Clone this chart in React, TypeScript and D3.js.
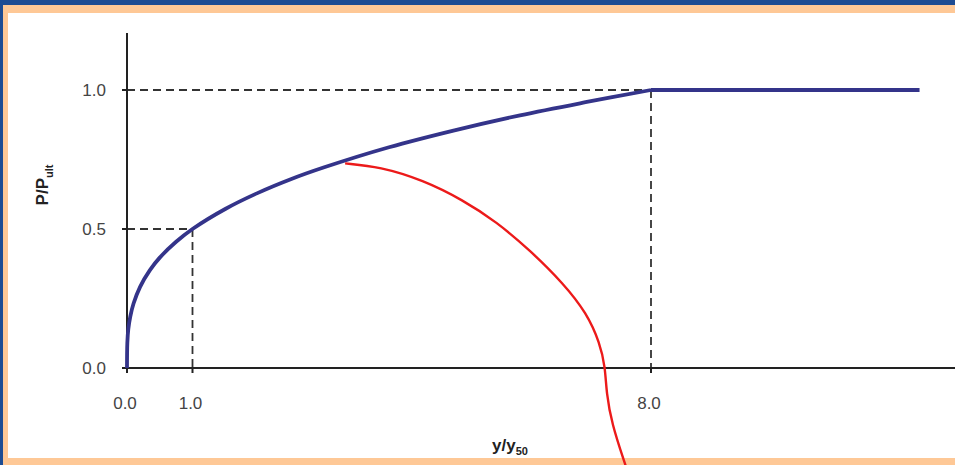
import React from 'react';
import * as d3 from 'd3';

// P-y curve (P/Pult against y/y50)
const ratioY = [0, 0.005, 0.02, 0.05, 0.1, 0.2, 0.35, 0.5, 0.75, 1, 1.5, 2, 2.5, 3, 4, 5, 6, 7, 8, 10, 12.1];
const ratioP = [0, 0.09, 0.14, 0.185, 0.232, 0.292, 0.352, 0.397, 0.454, 0.50, 0.572, 0.63, 0.679, 0.721, 0.794, 0.855, 0.909, 0.956, 1.0, 1.0, 1.0];

const xTicks = [0, 1, 8];
const xTickLabels = ['0.0', '1.0', '8.0'];
const yTicks = [0, 0.5, 1];
const yTickLabels = ['0.0', '0.5', '1.0'];

// reference points marked with dashed guides
const guideX = [1, 8];
const guideP = [0.5, 1.0];

// red callout line (data units), starts on the curve and runs off the bottom
const calloutX = [3.33, 3.86, 4.52, 5.13, 5.64, 6.15, 6.66, 7.02, 7.22, 7.30, 7.32, 7.40, 7.60, 7.64];
const calloutY = [0.736, 0.724, 0.676, 0.604, 0.526, 0.424, 0.305, 0.197, 0.089, 0.005, -0.091, -0.199, -0.343, -0.37];

const W = 955;
const H = 465;

export default function App() {
  const x = d3.scaleLinear().domain([0, 8]).range([127, 651]);
  const y = d3.scaleLinear().domain([0, 1]).range([368, 90]);

  // split where the curve reaches P/Pult = 1 so the corner at 8.0 stays sharp
  const peak = ratioP.indexOf(1);
  const rising = d3.range(0, peak + 1);
  const flat = d3.range(peak, ratioP.length);

  const curveLine = (curve: d3.CurveFactory) => d3.line<number>()
    .x((i) => x(ratioY[i]))
    .y((i) => y(ratioP[i]))
    .curve(curve);

  const callout = d3.line<number>()
    .x((_, i) => x(calloutX[i]))
    .y((d) => y(d))
    .curve(d3.curveBasis);

  const font = '"Liberation Sans", Arial, sans-serif';

  return (
    <div style={{ position: 'fixed', left: 0, top: 0 }}>
      <svg width={W} height={H} style={{ display: 'block' }}>
        {/* frame */}
        <rect x={0} y={0} width={W} height={H} fill="#1d4c93" />
        <rect x={3} y={5} width={W - 3} height={H - 5} fill="#fec896" />
        <rect x={8} y={13} width={W - 8} height={445} fill="#ffffff" />

        {/* dashed guides */}
        {guideX.map((gx, i) => (
          <g key={gx} stroke="#333" strokeWidth={1.8} strokeDasharray="8,5" fill="none">
            <line x1={x(0)} x2={x(gx)} y1={y(guideP[i])} y2={y(guideP[i])} />
            <line x1={x(gx)} x2={x(gx)} y1={y(guideP[i])} y2={y(0)} />
          </g>
        ))}

        {/* axes */}
        <line x1={x(0)} x2={x(0)} y1={33} y2={y(0) + 4} stroke="#222" strokeWidth={2} />
        <line x1={x(0) - 4} x2={W} y1={y(0)} y2={y(0)} stroke="#222" strokeWidth={2} />
        {yTicks.map((t, i) => (
          <g key={t}>
            <line x1={x(0) - 5} x2={x(0)} y1={y(t)} y2={y(t)} stroke="#222" strokeWidth={2} />
            <text x={106} y={y(t)} dy="0.36em" textAnchor="end" fontFamily={font}
              fontSize={17} fill="#444">{yTickLabels[i]}</text>
          </g>
        ))}
        {xTicks.map((t, i) => (
          <g key={t}>
            <line x1={x(t)} x2={x(t)} y1={y(0)} y2={y(0) + 5} stroke="#222" strokeWidth={2} />
            <text x={x(t) - 2} y={409} textAnchor="middle" fontFamily={font}
              fontSize={17} fill="#444">{xTickLabels[i]}</text>
          </g>
        ))}

        {/* curve */}
        <g fill="none" stroke="#34348a" strokeWidth={3.8} strokeLinejoin="round">
          <path d={curveLine(d3.curveCatmullRom.alpha(0.5))(rising) || ''} />
          <path d={curveLine(d3.curveLinear)(flat) || ''} />
        </g>

        {/* callout */}
        <path d={callout(calloutY) || ''} fill="none" stroke="#ec1a1a" strokeWidth={2.4} />

        {/* axis titles */}
        <text transform="translate(48,185) rotate(-90)" textAnchor="middle" fontFamily={font}
          fontWeight="bold" fontSize={17} fill="#222">
          P/P<tspan fontSize={11} dy={5}>ult</tspan>
        </text>
        <text x={510} y={451} textAnchor="middle" fontFamily={font} fontWeight="bold"
          fontSize={17} fill="#222">
          y/y<tspan fontSize={11} dy={4}>50</tspan>
        </text>
      </svg>
    </div>
  );
}
